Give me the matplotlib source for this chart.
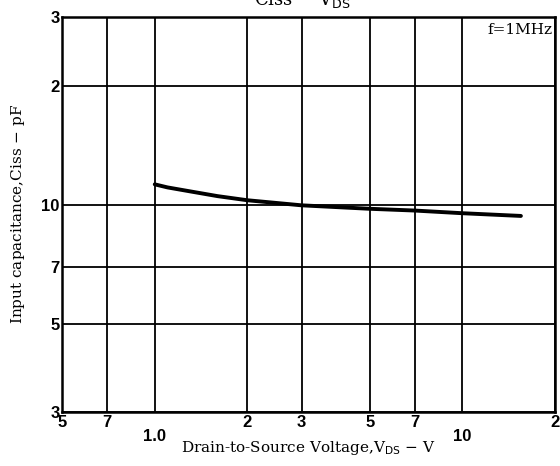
import matplotlib
matplotlib.use('Agg')

import numpy as np
import matplotlib.pyplot as plt

# ---------------- 数据 ----------------
vds = [1.0, 1.1, 1.3, 1.6, 2.0, 3.0, 5.0, 7.0, 10.0, 15.5]
ciss = [11.3, 11.1, 10.85, 10.55, 10.3, 10.0, 9.8, 9.7, 9.55, 9.4]

x_ticks = [0.5, 0.7, 1.0, 2, 3, 5, 7, 10, 20]
x_labels = ['5', '7', '1.0', '2', '3', '5', '7', '10', '2']
y_ticks = [3, 5, 7, 10, 20, 30]
y_labels = ['3', '5', '7', '10', '2', '3']

# ---------------- 绘图 ----------------
fig = plt.figure(figsize=(5.6, 4.66), dpi=100)
ax = fig.add_axes([0.111, 0.116, 0.880, 0.848])

ax.set_xscale('log')
ax.set_yscale('log')
ax.set_xlim(0.5, 20)
ax.set_ylim(3, 30)

for xv in x_ticks:
    ax.axvline(xv, color='black', lw=1.3, zorder=1)
for yv in y_ticks:
    ax.axhline(yv, color='black', lw=1.3, zorder=1)

ax.plot(vds, ciss, color='black', lw=2.8, solid_capstyle='round', zorder=3)

ax.xaxis.set_minor_locator(matplotlib.ticker.NullLocator())
ax.yaxis.set_minor_locator(matplotlib.ticker.NullLocator())
ax.set_xticks(x_ticks)
ax.set_xticklabels(x_labels)
ax.set_yticks(y_ticks)
ax.set_yticklabels(y_labels)
ax.tick_params(length=0, pad=2)
for lab in ax.get_xticklabels() + ax.get_yticklabels():
    lab.set_fontweight('bold')
    lab.set_fontsize(12)
    lab.set_fontfamily('Liberation Sans')
# "1.0" 和 "10" 标签位置稍低
for lab in ax.get_xticklabels():
    if lab.get_text() in ('1.0', '10'):
        lab.set_y(-0.035)

for sp in ax.spines.values():
    sp.set_linewidth(1.8)

ax.set_xlabel('Drain-to-Source Voltage,V$_{\\mathrm{DS}}$ $-$ V',
              fontfamily='DejaVu Serif', fontsize=11, labelpad=-3)
ax.set_ylabel('Input capacitance,Ciss $-$ pF',
              fontfamily='DejaVu Serif', fontsize=11, labelpad=10)

ax.text(0.995, 0.985, 'f=1MHz', transform=ax.transAxes, ha='right', va='top',
        fontfamily='DejaVu Serif', fontsize=11,
        bbox=dict(facecolor='white', edgecolor='none', pad=1))

# 顶部被裁切的标题（与原图一致，只露出下半部分）
fig.text(0.54, 1.0, 'Ciss $-$ V$_{\\mathrm{DS}}$', ha='center', va='center',
         fontfamily='DejaVu Serif', fontsize=13)

plt.savefig('out.png', dpi=100)
plt.close()
